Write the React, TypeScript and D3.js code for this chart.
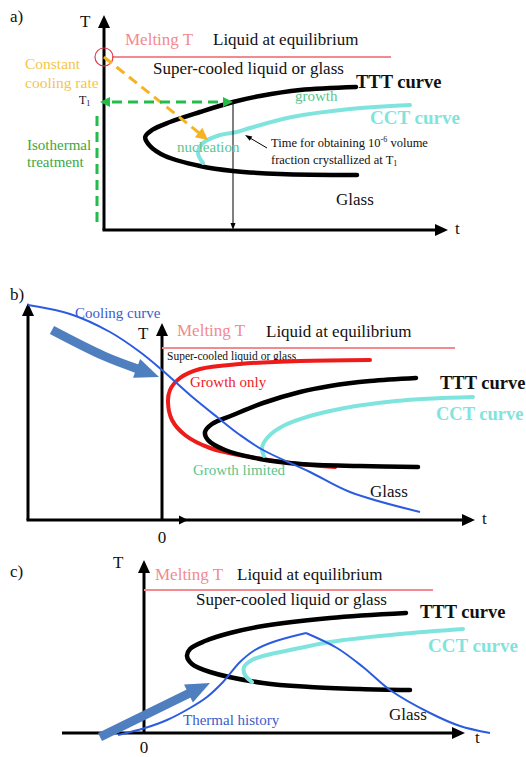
import React from "react";
import * as d3 from "d3";

type P = [number, number];

// ---------- Panel a (t, T in schematic units) ----------
const axisA: P = [86, 107.5];
const meltA = 86.5;
const meltSpanA: P = [2, 71.75];
const t1A = 64;
const t1TimeA = 32.25;
const tttA: P[] = [[63, 71.5], [49, 70], [39, 67], [32.25, 64], [24, 59], [16.5, 54], [12, 50], [10.3, 46.5], [11.5, 42], [15.25, 37], [24, 32], [32.25, 29.5], [44, 28], [63.25, 27.5]];
const cctA: P[] = [[24.75, 33.5], [23.5, 38.5], [24.75, 43.5], [29, 47.5], [33.25, 49], [36.5, 51], [47, 56.5], [61.5, 60.5], [76.5, 62.5]];
const coolingA: P[] = [[0, 86.5], [26, 45]];
const isoVertA: P[] = [[-1.75, 4], [-1.75, 59]];
const pointerA: P[] = [[40.75, 41], [35.25, 47.5]];

// ---------- Panel b ----------
const axisB = { left: -33.5, leftTop: 108.5, tEnd: 78.25, TTop: 98.5, midHead: 6.5 };
const meltB = 86;
const meltSpanB: P = [0, 73.25];
const coolCurveB: P[] = [[-33.5, 107.5], [-23, 103], [-13, 94], [-5.5, 84], [0, 75], [7, 62.5], [13.75, 51.5], [19.5, 42.5], [25.25, 35], [37, 24], [47, 14], [64.5, 4]];
const bigArrowB: P[] = [[-27.5, 95], [-14.5, 82], [-0.75, 71.5]];
const redB: P[] = [[52, 80], [34.5, 79.5], [19.5, 78], [9.5, 75.5], [4.5, 71], [2, 65], [1.5, 59], [2.5, 50], [5.75, 42.5], [12, 36], [22, 31.5], [34.5, 28], [43.25, 26.5]];
const tttB: P[] = [[63.5, 71], [52, 69.5], [42, 67], [34.5, 64], [25.25, 58.5], [17.75, 52.5], [12.5, 48], [10.75, 44], [11.5, 40], [15.75, 35], [24.5, 30.5], [34.5, 28], [49.5, 27], [64, 26.5]];
const cctB: P[] = [[25.5, 32], [25, 36], [26.5, 41.5], [30.75, 47.5], [42, 54.5], [58.5, 59.5], [77.75, 61.5]];

// ---------- Panel c ----------
const axisC = { left: -20.5, tEnd: 80.25, TTop: 86.5 };
const meltC = 71.5;
const meltSpanC: P = [0, 72.25];
const tttC: P[] = [[65.5, 60], [46.5, 57.5], [29.75, 53.5], [21.5, 50], [15.25, 46], [11.5, 42], [10.75, 38.5], [12, 34.5], [16.5, 30.5], [29.75, 25], [41.5, 23], [54, 22], [66.5, 21.5]];
const cctC: P[] = [[27, 25.5], [25.25, 29], [25, 33], [27, 36.5], [29.75, 38.5], [39, 42.5], [46.5, 45.5], [64, 49.5], [79.75, 52]];
const heatC: P[] = [[-6.5, -1], [0.25, 2.5], [5.75, 6.5], [11.5, 12.5], [15.75, 18], [19.75, 25.5], [24, 35.5], [27.75, 41.5], [32.25, 45.5], [40.5, 50]];
const quenchC: P[] = [[40.5, 50], [48.25, 42.5], [54.75, 33], [61.5, 21.5], [71.5, 10], [79, 3.5], [86.5, 0]];
const bigArrowC: P[] = [[-11, -2], [16.5, 25]];

const C = {
  pink: "#f28a8f",
  cyan: "#80e4de",
  teal: "#5cc58c",
  green: "#22bd48",
  greenText: "#3aa843",
  orange: "#f5b324",
  orangeText: "#f6c646",
  blue: "#2b5ce0",
  blueText: "#3a5ccc",
  big: "#4f7fbf",
  red: "#ee1b1b",
};
const FONT = "Liberation Serif, Times New Roman, Times, DejaVu Serif, serif";

function head(tip: P, from: P, len: number, half: number) {
  const dx = tip[0] - from[0], dy = tip[1] - from[1];
  const L = Math.hypot(dx, dy);
  const ux = dx / L, uy = dy / L;
  const bx = tip[0] - ux * len, by = tip[1] - uy * len;
  return `M${tip[0]},${tip[1]}L${bx - uy * half},${by + ux * half}L${bx + uy * half},${by - ux * half}Z`;
}
function base(tip: P, from: P, len: number): P {
  const dx = tip[0] - from[0], dy = tip[1] - from[1];
  const L = Math.hypot(dx, dy);
  return [tip[0] - (dx / L) * len, tip[1] - (dy / L) * len];
}

function Arrow({ from, to, w = 3, len = 13, half = 6, color = "#000", dash }: { from: P; to: P; w?: number; len?: number; half?: number; color?: string; dash?: string }) {
  const b = base(to, from, len - 1);
  return (
    <g>
      <line x1={from[0]} y1={from[1]} x2={b[0]} y2={b[1]} stroke={color} strokeWidth={w} strokeDasharray={dash} />
      <path d={head(to, from, len, half)} fill={color} />
    </g>
  );
}

function mk(xd: [number, number], xr: [number, number], yd: [number, number], yr: [number, number]) {
  const x = d3.scaleLinear().domain(xd).range(xr);
  const y = d3.scaleLinear().domain(yd).range(yr);
  const pt = (d: P): P => [x(d[0]), y(d[1])];
  const curve = (data: P[], c: any = d3.curveCatmullRom.alpha(0.5)) =>
    d3.line<P>().x((d) => x(d[0])).y((d) => y(d[1])).curve(c)(data) || "";
  return { x, y, pt, curve };
}

const T = ({ style, fontSize = 17, fontWeight = "normal", fill = "#111", ...props }: any) => (
  <text
    fill={fill}
    style={{ fontFamily: FONT, fontSize: fontSize + "px", fontWeight, ...(style || {}) }}
    {...props}
  />
);

export default function App() {
  const A = mk([0, 85], [104, 444], [0, 100], [230, 30]);
  const B = mk([0, 85], [162, 502], [0, 100], [520, 320]);
  const Cc = mk([0, 85], [144, 484], [0, 100], [733, 533]);

  const bTip = B.pt(bigArrowB[2]);
  const bMid = B.pt(bigArrowB[1]);
  const bBase = base(bTip, bMid, 22);
  const bShaft = d3.line().curve(d3.curveCatmullRom)([B.pt(bigArrowB[0]), bMid, bBase]) || "";

  const cFrom = Cc.pt(bigArrowC[0]);
  const cTip = Cc.pt(bigArrowC[1]);
  const cBase = base(cTip, cFrom, 22);

  return (
    <svg width={526} height={757} style={{ position: "absolute", left: 0, top: 0, background: "#fff" }}>
      {/* ================= Panel a ================= */}
      <T x={10} y={22}>a)</T>
      <T x={80} y={27}>T</T>
      <Arrow from={A.pt([0, 0])} to={A.pt([0, axisA[1]])} />
      <Arrow from={[A.x(0) - 1.5, A.y(0)]} to={A.pt([axisA[0], 0])} />
      <line x1={A.x(meltSpanA[0])} x2={A.x(meltSpanA[1])} y1={A.y(meltA)} y2={A.y(meltA)} stroke={C.pink} strokeWidth={2.2} />
      <circle cx={A.x(0)} cy={A.y(meltA)} r={9} fill="none" stroke="#e23a4e" strokeWidth={1.2} />
      <T x={125} y={45} fill={C.pink}>Melting T</T>
      <T x={213} y={45}>Liquid at equilibrium</T>
      <T x={153} y={74}>Super-cooled liquid or glass</T>
      <T x={25} y={69} fontSize={15.5} fill={C.orangeText}>Constant</T>
      <T x={25} y={88} fontSize={15.5} fill={C.orangeText}>cooling rate</T>
      <T x={79} y={104} fontSize={12}>T<tspan style={{ fontSize: "8px" }} dy={2}>1</tspan></T>
      <T x={27} y={150} fontSize={15} fill={C.greenText}>Isothermal</T>
      <T x={27} y={167} fontSize={15} fill={C.greenText}>treatment</T>

      <path d={A.curve(tttA)} fill="none" stroke="#000" strokeWidth={4.5} strokeLinecap="round" />
      <path d={A.curve(cctA)} fill="none" stroke={C.cyan} strokeWidth={4} strokeLinecap="round" />

      <Arrow from={A.pt(coolingA[0])} to={A.pt(coolingA[1])} color={C.orange} w={3} len={12} half={6} dash="10,6" />
      <line x1={A.x(isoVertA[0][0])} x2={A.x(isoVertA[1][0])} y1={A.y(isoVertA[0][1])} y2={A.y(isoVertA[1][1])} stroke={C.green} strokeWidth={3} strokeDasharray="10,6" />
      <line x1={A.x(0) + 8} x2={A.x(t1TimeA) - 10} y1={A.y(t1A)} y2={A.y(t1A)} stroke={C.green} strokeWidth={3} strokeDasharray="10,6" />
      <path d={head([A.x(-1), A.y(t1A)], [A.x(10), A.y(t1A)], 10, 5)} fill={C.green} />
      <path d={head(A.pt([t1TimeA, t1A]), [A.x(20), A.y(t1A)], 10, 5)} fill={C.green} />

      <Arrow from={A.pt([t1TimeA, t1A])} to={A.pt([t1TimeA, 0])} w={1} len={7} half={2.5} />
      <Arrow from={A.pt(pointerA[0])} to={A.pt(pointerA[1])} w={1} len={7} half={2.5} />

      <T x={295} y={101} fontSize={15} fill={C.teal}>growth</T>
      <T x={177} y={152} fontSize={15} fill={C.teal}>nucleation</T>
      <T x={356} y={88} fontSize={18.5} fontWeight="bold">TTT curve</T>
      <T x={370} y={124} fontSize={19} fontWeight="bold" fill={C.cyan}>CCT curve</T>
      <T x={271} y={147} fontSize={12.5}>Time for obtaining 10<tspan style={{ fontSize: "8px" }} dy={-5}>-6</tspan><tspan dy={5}> volume</tspan></T>
      <T x={271} y={164} fontSize={12.5}>fraction crystallized at T<tspan style={{ fontSize: "8px" }} dy={2}>1</tspan></T>
      <T x={336} y={205}>Glass</T>
      <T x={455} y={234}>t</T>

      {/* ================= Panel b ================= */}
      <T x={10} y={300}>b)</T>
      <Arrow from={B.pt([axisB.left, 0])} to={B.pt([axisB.left, axisB.leftTop])} />
      <Arrow from={[B.x(axisB.left) - 1.5, B.y(0)]} to={B.pt([axisB.tEnd, 0])} />
      <path d={head(B.pt([axisB.midHead, 0]), B.pt([0, 0]), 9, 4.5)} fill="#000" />
      <Arrow from={B.pt([0, 0])} to={B.pt([0, axisB.TTop])} />
      <T x={138} y={339}>T</T>
      <T x={B.x(0)} y={543} textAnchor="middle">0</T>
      <line x1={B.x(meltSpanB[0])} x2={B.x(meltSpanB[1])} y1={B.y(meltB)} y2={B.y(meltB)} stroke={C.pink} strokeWidth={1.8} />
      <T x={177} y={336} fill={C.pink}>Melting T</T>
      <T x={266} y={337}>Liquid at equilibrium</T>
      <T x={167} y={360} fontSize={11.5}>Super-cooled liquid or glass</T>

      <path d={B.curve(redB)} fill="none" stroke={C.red} strokeWidth={4} strokeLinecap="round" />
      <path d={B.curve(tttB)} fill="none" stroke="#000" strokeWidth={4.5} strokeLinecap="round" />
      <path d={B.curve(cctB)} fill="none" stroke={C.cyan} strokeWidth={4} strokeLinecap="round" />
      <path d={B.curve(coolCurveB)} fill="none" stroke={C.blue} strokeWidth={2} />

      <path d={bShaft} fill="none" stroke={C.big} strokeWidth={9} />
      <path d={head(bTip, bMid, 24, 10)} fill={C.big} />

      <T x={75} y={318} fontSize={15} fill={C.blueText}>Cooling curve</T>
      <T x={190} y={387} fontSize={15} fill={C.red}>Growth only</T>
      <T x={440} y={389} fontSize={18.5} fontWeight="bold">TTT curve</T>
      <T x={436} y={420} fontSize={18.5} fontWeight="bold" fill={C.cyan}>CCT curve</T>
      <T x={193} y={475} fontSize={15} fill={C.teal}>Growth limited</T>
      <T x={370} y={497}>Glass</T>
      <T x={482} y={524}>t</T>

      {/* ================= Panel c ================= */}
      <T x={10} y={577}>c)</T>
      <T x={113} y={568}>T</T>
      <Arrow from={Cc.pt([0, 0])} to={Cc.pt([0, axisC.TTop])} />
      <Arrow from={Cc.pt([axisC.left, 0])} to={Cc.pt([axisC.tEnd, 0])} />
      <T x={Cc.x(0)} y={753} textAnchor="middle">0</T>
      <line x1={Cc.x(meltSpanC[0])} x2={Cc.x(meltSpanC[1])} y1={Cc.y(meltC)} y2={Cc.y(meltC)} stroke={C.pink} strokeWidth={2} />
      <T x={155} y={580} fill={C.pink}>Melting T</T>
      <T x={237} y={580}>Liquid at equilibrium</T>
      <T x={196} y={605}>Super-cooled liquid or glass</T>

      <path d={Cc.curve(tttC)} fill="none" stroke="#000" strokeWidth={4.5} strokeLinecap="round" />
      <path d={Cc.curve(cctC)} fill="none" stroke={C.cyan} strokeWidth={4} strokeLinecap="round" />
      <path d={Cc.curve(heatC)} fill="none" stroke={C.blue} strokeWidth={2} />
      <path d={Cc.curve(quenchC)} fill="none" stroke={C.blue} strokeWidth={2} />

      <line x1={cFrom[0]} y1={cFrom[1]} x2={cBase[0]} y2={cBase[1]} stroke={C.big} strokeWidth={9} />
      <path d={head(cTip, cFrom, 24, 10)} fill={C.big} />

      <T x={420} y={618} fontSize={18.5} fontWeight="bold">TTT curve</T>
      <T x={428} y={652} fontSize={19} fontWeight="bold" fill={C.cyan}>CCT curve</T>
      <T x={183} y={725} fontSize={15} fill={C.blueText}>Thermal history</T>
      <T x={389} y={720}>Glass</T>
      <T x={475} y={743}>t</T>
    </svg>
  );
}
